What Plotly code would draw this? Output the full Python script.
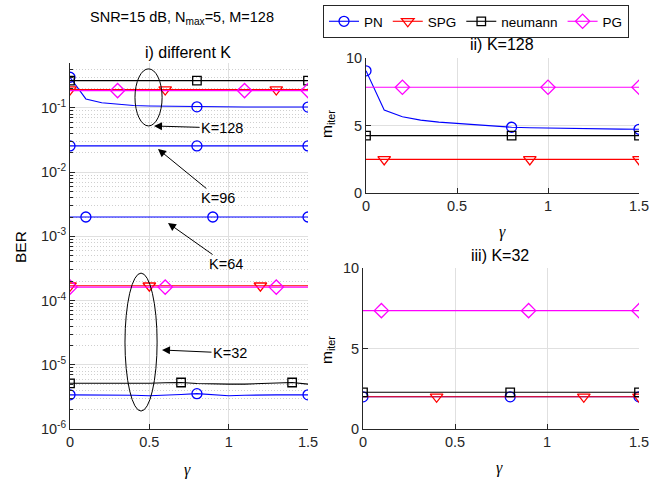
import plotly.graph_objects as go

W, H = 667, 481

# ---------------- data ----------------
gamma = [0.0, 0.1, 0.2, 0.3, 0.4, 0.5, 0.6, 0.7, 0.8, 0.9, 1.0, 1.1, 1.2, 1.3, 1.4, 1.5]

# i) BER for different K
ber_k128_pn = [0.300, 0.138, 0.120, 0.113, 0.109, 0.107, 0.106, 0.105, 0.104, 0.104, 0.104, 0.103, 0.103, 0.103, 0.103, 0.103]
ber_k128_spg = [0.193, 0.193, 0.193, 0.193, 0.193, 0.193, 0.193, 0.193, 0.193, 0.193, 0.193, 0.193, 0.193, 0.193, 0.193, 0.193]
ber_k128_neu = [0.266, 0.266, 0.266, 0.266, 0.266, 0.266, 0.266, 0.266, 0.266, 0.266, 0.266, 0.266, 0.266, 0.266, 0.266, 0.266]
ber_k128_pg = [0.186, 0.186, 0.186, 0.186, 0.186, 0.186, 0.186, 0.186, 0.186, 0.186, 0.186, 0.186, 0.186, 0.186, 0.186, 0.186]
ber_k96_pn = [0.0256, 0.0256, 0.0256, 0.0256, 0.0256, 0.0256, 0.0256, 0.0256, 0.0256, 0.0256, 0.0256, 0.0256, 0.0256, 0.0256, 0.0256, 0.0256]
ber_k64_pn = [0.0020, 0.0020, 0.0020, 0.0020, 0.0020, 0.0020, 0.0020, 0.0020, 0.0020, 0.0020, 0.0020, 0.0020, 0.0020, 0.0020, 0.0020, 0.0020]
ber_k32_spg = [1.70e-4, 1.70e-4, 1.70e-4, 1.70e-4, 1.70e-4, 1.70e-4, 1.70e-4, 1.70e-4, 1.70e-4, 1.70e-4, 1.70e-4, 1.70e-4, 1.70e-4, 1.70e-4, 1.70e-4, 1.70e-4]
ber_k32_pg = [1.62e-4, 1.62e-4, 1.62e-4, 1.62e-4, 1.62e-4, 1.62e-4, 1.62e-4, 1.62e-4, 1.62e-4, 1.62e-4, 1.62e-4, 1.62e-4, 1.62e-4, 1.62e-4, 1.62e-4, 1.62e-4]
ber_k32_neu = [5.15e-6, 5.15e-6, 5.1e-6, 5.1e-6, 5.1e-6, 5.15e-6, 5.25e-6, 5.3e-6, 5.1e-6, 5.0e-6, 5.0e-6, 5.0e-6, 5.1e-6, 5.2e-6, 5.3e-6, 5.0e-6]
ber_k32_pn = [3.4e-6, 3.4e-6, 3.4e-6, 3.4e-6, 3.35e-6, 3.3e-6, 3.35e-6, 3.45e-6, 3.55e-6, 3.45e-6, 3.3e-6, 3.35e-6, 3.4e-6, 3.4e-6, 3.4e-6, 3.4e-6]

# ii) iterations, K=128
it128_pn = [9.05, 6.15, 5.65, 5.40, 5.25, 5.15, 5.05, 4.95, 4.87, 4.83, 4.80, 4.78, 4.76, 4.74, 4.73, 4.72]
it128_spg = [2.49, 2.49, 2.49, 2.49, 2.49, 2.49, 2.49, 2.49, 2.49, 2.49, 2.49, 2.49, 2.49, 2.49, 2.49, 2.49]
it128_neu = [4.25, 4.25, 4.25, 4.25, 4.25, 4.25, 4.25, 4.25, 4.25, 4.25, 4.25, 4.25, 4.25, 4.25, 4.25, 4.25]
it128_pg = [7.83, 7.83, 7.83, 7.83, 7.83, 7.83, 7.83, 7.83, 7.83, 7.83, 7.83, 7.83, 7.83, 7.83, 7.83, 7.83]

# iii) iterations, K=32
it32_pn = [2.0, 2.0, 2.0, 2.0, 2.0, 2.0, 2.0, 2.0, 2.0, 2.0, 2.0, 2.0, 2.0, 2.0, 2.0, 2.0]
it32_spg = [2.0, 2.0, 2.0, 2.0, 2.0, 2.0, 2.0, 2.0, 2.0, 2.0, 2.0, 2.0, 2.0, 2.0, 2.0, 2.0]
it32_neu = [2.28, 2.28, 2.28, 2.28, 2.28, 2.28, 2.28, 2.28, 2.28, 2.28, 2.28, 2.28, 2.28, 2.28, 2.28, 2.28]
it32_pg = [7.35, 7.35, 7.35, 7.35, 7.35, 7.35, 7.35, 7.35, 7.35, 7.35, 7.35, 7.35, 7.35, 7.35, 7.35, 7.35]

# marker indices (into gamma)
mk = {
    "k128_pn": [0, 8, 15], "k128_spg": [0, 6, 13], "k128_neu": [0, 8, 15], "k128_pg": [3, 11, 15],
    "k96_pn": [0, 8, 15], "k64_pn": [1, 9, 15],
    "k32_spg": [0, 5, 12], "k32_pg": [0, 6, 13], "k32_neu": [0, 7, 14], "k32_pn": [0, 8, 15],
    "it128_pn": [0, 8, 15], "it128_spg": [1, 9, 15], "it128_neu": [0, 8, 15], "it128_pg": [2, 10, 15],
    "it32_pn": [0, 8, 15], "it32_spg": [4, 12, 15], "it32_neu": [0, 8, 15], "it32_pg": [1, 9, 15],
}

legend_names = ["PN", "SPG", "neumann", "PG"]

ber_tickvals = [1e-6, 1e-5, 1e-4, 1e-3, 1e-2, 1e-1]
ber_ticktext = ["10<sup>-6</sup>", "10<sup>-5</sup>", "10<sup>-4</sup>", "10<sup>-3</sup>",
                "10<sup>-2</sup>", "10<sup>-1</sup>"]
gamma_tickvals = [0, 0.5, 1, 1.5]
gamma_ticktext = ["0", "0.5", "1", "1.5"]
iter_tickvals = [0, 5, 10]

# ---------------- styles ----------------
STY = {
    "PN": dict(color="#0000ff", symbol="circle-open", size=10),
    "SPG": dict(color="#ff0000", symbol="triangle-down-open", size=11),
    "neumann": dict(color="#000000", symbol="square-open", size=8.5),
    "PG": dict(color="#ff00ff", symbol="diamond-open", size=11),
}

fig = go.Figure()


def add_series(y, idx, name, ax):
    s = STY[name]
    xa = "x" if ax == 1 else f"x{ax}"
    ya = "y" if ax == 1 else f"y{ax}"
    fig.add_trace(go.Scatter(x=gamma, y=y, mode="lines", xaxis=xa, yaxis=ya,
                             line=dict(color=s["color"], width=1.1), showlegend=False,
                             hoverinfo="skip"))
    fig.add_trace(go.Scatter(x=[gamma[i] for i in idx], y=[y[i] for i in idx], mode="markers",
                             xaxis=xa, yaxis=ya, showlegend=False,
                             marker=dict(symbol=s["symbol"], size=s["size"], color=s["color"],
                                         line=dict(width=1.3, color=s["color"]))))


# left panel
add_series(ber_k128_pn, mk["k128_pn"], "PN", 1)
add_series(ber_k96_pn, mk["k96_pn"], "PN", 1)
add_series(ber_k64_pn, mk["k64_pn"], "PN", 1)
add_series(ber_k32_pn, mk["k32_pn"], "PN", 1)
add_series(ber_k128_spg, mk["k128_spg"], "SPG", 1)
add_series(ber_k32_spg, mk["k32_spg"], "SPG", 1)
add_series(ber_k128_neu, mk["k128_neu"], "neumann", 1)
add_series(ber_k32_neu, mk["k32_neu"], "neumann", 1)
add_series(ber_k128_pg, mk["k128_pg"], "PG", 1)
add_series(ber_k32_pg, mk["k32_pg"], "PG", 1)

# top right
add_series(it128_pn, mk["it128_pn"], "PN", 2)
add_series(it128_spg, mk["it128_spg"], "SPG", 2)
add_series(it128_neu, mk["it128_neu"], "neumann", 2)
add_series(it128_pg, mk["it128_pg"], "PG", 2)

# bottom right
add_series(it32_pn, mk["it32_pn"], "PN", 3)
add_series(it32_spg, mk["it32_spg"], "SPG", 3)
add_series(it32_neu, mk["it32_neu"], "neumann", 3)
add_series(it32_pg, mk["it32_pg"], "PG", 3)

# legend entries
for nm in legend_names:
    s = STY[nm]
    fig.add_trace(go.Scatter(x=[None], y=[None], mode="lines+markers", name=nm,
                             line=dict(color=s["color"], width=1.1),
                             marker=dict(symbol=s["symbol"], size=s["size"], color=s["color"],
                                         line=dict(width=1.3, color=s["color"]))))

# ---------------- layout ----------------
FONT = "Liberation Sans, Arial, Helvetica, sans-serif"
AX = "#262626"
GRID = "#e0e0e0"


def px(x):
    return x / W


def py(y):
    return 1 - y / H


common_x = dict(range=[0, 1.5], tickmode="array", tickvals=gamma_tickvals, ticktext=gamma_ticktext,
                showline=True, linecolor=AX, linewidth=1, ticks="inside", ticklen=5,
                tickcolor=AX, showgrid=True, gridcolor=GRID, zeroline=False, mirror=False,
                automargin=False,
                tickfont=dict(family=FONT, size=14.5, color=AX))

fig.update_layout(
    template="none",
    width=W, height=H,
    margin=dict(l=0, r=0, t=0, b=0, pad=0, autoexpand=False),
    paper_bgcolor="white", plot_bgcolor="white",
    font=dict(family=FONT, color="#000000"),
    xaxis=dict(domain=[px(70), px(308)], anchor="y", **common_x),
    yaxis=dict(domain=[py(429), py(63)], anchor="x", type="log", automargin=False,
               range=[-6, -0.301], tickmode="array", tickvals=ber_tickvals, ticktext=ber_ticktext,
               showline=True, linecolor=AX, linewidth=1, ticks="inside", ticklen=5, tickcolor=AX,
               showgrid=True, gridcolor=GRID, zeroline=False,
               tickfont=dict(family=FONT, size=14.5, color=AX),
               minor=dict(tickmode="linear", dtick="D1", showgrid=True, gridcolor="#cfcfcf",
                          griddash="1px,2px", gridwidth=1,
                          ticks="inside", ticklen=3, tickcolor=AX)),
    xaxis2=dict(domain=[px(366), px(639)], anchor="y2", **common_x),
    yaxis2=dict(domain=[py(193), py(58)], anchor="x2", range=[0, 10], tickvals=iter_tickvals,
                automargin=False,
                showline=True, linecolor=AX, linewidth=1, ticks="inside", ticklen=5, tickcolor=AX,
                showgrid=True, gridcolor=GRID, zeroline=False,
                tickfont=dict(family=FONT, size=14.5, color=AX)),
    xaxis3=dict(domain=[px(363), px(639)], anchor="y3", **common_x),
    yaxis3=dict(domain=[py(429), py(268)], anchor="x3", range=[0, 10], tickvals=iter_tickvals,
                automargin=False,
                showline=True, linecolor=AX, linewidth=1, ticks="inside", ticklen=5, tickcolor=AX,
                showgrid=True, gridcolor=GRID, zeroline=False,
                tickfont=dict(family=FONT, size=14.5, color=AX)),
    legend=dict(orientation="h", x=px(323), y=py(5), xanchor="left", yanchor="top",
                bordercolor="#262626", borderwidth=1, bgcolor="white",
                font=dict(family=FONT, size=13.5, color="#000000"),
                itemwidth=30, tracegroupgap=0),
    showlegend=True,
)

ann = []


def text(x, y, t, size=16, rot=0, family=FONT):
    ann.append(dict(x=px(x), y=py(y), xref="paper", yref="paper", text=t, showarrow=False,
                    xanchor="center", yanchor="middle", textangle=rot,
                    font=dict(family=family, size=size, color="#000000")))


SERIF = "Liberation Serif, DejaVu Serif, serif"
text(182, 18, "SNR=15 dB, N<sub>max</sub>=5, M=128", size=14.5)
text(188, 52, "i) different K", size=16)
text(502, 45, "ii) K=128", size=16)
text(500, 255, "iii) K=32", size=16)
text(187, 470, "<i>γ</i>", size=16, family=SERIF)
text(502, 232, "<i>γ</i>", size=16, family=SERIF)
text(500, 468, "<i>γ</i>", size=16, family=SERIF)
text(20, 247, "BER", size=15.5, rot=-90)
text(327, 124, "m<sub>iter</sub>", size=15.5, rot=-90)
text(327, 350, "m<sub>iter</sub>", size=15.5, rot=-90)


def arrow(hx, hy, tx, ty, t):
    ann.append(dict(x=px(hx), y=py(hy), xref="paper", yref="paper", ax=tx - hx, ay=ty - hy,
                    axref="pixel", ayref="pixel", text=t, showarrow=True, arrowhead=2,
                    arrowsize=1.6, arrowwidth=1, arrowcolor="#000000", standoff=0,
                    font=dict(family=FONT, size=14.5, color="#000000")))


arrow(154, 126, 222, 128, "K=128")
arrow(158, 149, 218, 198, "K=96")
arrow(168, 223, 226, 264, "K=64")
arrow(162, 350, 230, 353, "K=32")

fig.update_layout(annotations=ann)

# ellipses (in axis-domain units of the left panel)
fig.add_shape(type="circle", xref="x domain", yref="y domain", x0=0.273, x1=0.387, y0=0.828, y1=0.984,
              line=dict(color="#000000", width=1))
fig.add_shape(type="circle", xref="x domain", yref="y domain", x0=0.231, x1=0.366, y0=0.049, y1=0.426,
              line=dict(color="#000000", width=1))

fig.write_html("out.html", config={"displayModeBar": False},
               post_script="document.body.style.margin='0';document.body.style.overflow='hidden';")
